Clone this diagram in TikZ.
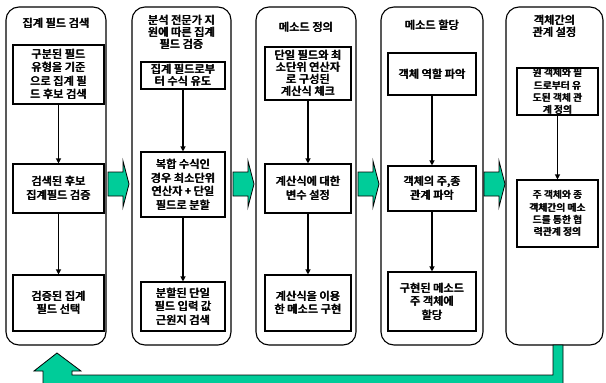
\documentclass[tikz,border=0pt]{standalone}
\usepackage{fontspec}
\newfontfamily\krfont{Noto Sans CJK KR}
\newcommand\bt[1]{\rlap{#1}\rlap{\kern0.4pt#1}\kern0.8pt#1}
\usetikzlibrary{arrows.meta}
\definecolor{grn}{RGB}{0,204,153}
\begin{document}
\begin{tikzpicture}[x=1pt,y=-1pt,
  font=\krfont\fontsize{11.2}{13.5}\selectfont,
  colbox/.style={draw, line width=1.1pt, rounded corners=13pt, inner sep=0pt},
  box/.style={draw, line width=1.1pt, align=center, inner sep=0pt, font=\krfont\fontsize{11.2}{13.5}\selectfont},
  tight/.style={font=\krfont\fontsize{11.2}{12.2}\selectfont},
  small/.style={font=\krfont\fontsize{9.8}{12.2}\selectfont},
  ttl/.style={align=center, inner sep=0pt, font=\krfont\fontsize{11.2}{12.2}\selectfont},
  arr/.style={line width=1.1pt, -{Triangle[length=5pt,width=5pt]}},
  garrow/.style={fill=grn, draw=black, line width=0.8pt}]
\useasboundingbox (0,0) rectangle (606,383);
\clip (0,0) rectangle (606,383);

% columns
\node[colbox, minimum width=100pt, minimum height=338pt] (c1) at (56,176) {};
\node[colbox, minimum width=99pt, minimum height=338pt] (c2) at (181.5,176) {};
\node[colbox, minimum width=100pt, minimum height=338pt] (c3) at (306,176) {};
\node[colbox, minimum width=102pt, minimum height=338pt] (c4) at (432,176) {};
\node[colbox, minimum width=97pt, minimum height=338pt] (c5) at (554.5,176) {};

% titles
\node[ttl] (t1) at (56,23) {\bt{집계 필드 검색}};
\node[ttl] (t2) at (181.5,32) {\bt{분석 전문가 지}\\\bt{원에 따른 집계}\\\bt{필드 검증}};
\node[ttl] (t3) at (306,27) {\bt{메소드 정의}};
\node[ttl] (t4) at (432,25) {\bt{메소드 할당}};
\node[ttl] (t5) at (554.5,26) {\bt{객체간의}\\\bt{관계 설정}};

% column 1
\node[box, minimum width=91pt, minimum height=59pt] (c1b1) at (58.5,74.5) {\bt{구분된 필드}\\\bt{유형을 기준}\\\bt{으로 집계 필}\\\bt{드 후보 검색}};
\node[box, minimum width=91pt, minimum height=49pt] (c1b2) at (58.5,188.5) {\bt{검색된 후보}\\\bt{집계필드 검증}};
\node[box, minimum width=91pt, minimum height=56pt] (c1b3) at (58.5,303) {\bt{검증된 집계}\\\bt{필드 선택}};
% column 2
\node[box, tight, minimum width=84pt, minimum height=27pt] (c2b1) at (183,75.5) {\bt{집계 필드로부}\\\bt{터 수식 유도}};
\node[box, minimum width=84pt, minimum height=65pt] (c2b2) at (183,184.5) {\bt{복합 수식인}\\\bt{경우 최소단위}\\\bt{연산자 + 단일}\\\bt{필드로 분할}};
\node[box, minimum width=84pt, minimum height=49pt] (c2b3) at (183,306.5) {\bt{분할된 단일}\\\bt{필드 입력 값}\\\bt{근원지 검색}};
% column 3
\node[box, tight, minimum width=86pt, minimum height=53pt] (c3b1) at (308,73.5) {\bt{단일 필드와 최}\\\bt{소단위 연산자}\\\bt{로 구성된}\\\bt{계산식 체크}};
\node[box, minimum width=86pt, minimum height=49pt] (c3b2) at (308,188.5) {\bt{계산식에 대한}\\\bt{변수 설정}};
\node[box, minimum width=86pt, minimum height=56pt] (c3b3) at (308,303) {\bt{계산식을 이용}\\\bt{한 메소드 구현}};
% column 4
\node[box, minimum width=88pt, minimum height=42pt] (c4b1) at (432,74) {\bt{객체 역할 파악}};
\node[box, minimum width=88pt, minimum height=45pt] (c4b2) at (432,188.5) {\bt{객체의 주,종}\\\bt{관계 파악}};
\node[box, minimum width=88pt, minimum height=59pt] (c4b3) at (432,301.5) {\bt{구현된 메소드}\\\bt{주 객체에}\\\bt{할당}};
% column 5
\node[box, small, minimum width=81pt, minimum height=47pt] (c5b1) at (557.5,91.5) {\bt{원 객체와 필}\\\bt{드로부터 유}\\\bt{도된 객체 관}\\\bt{계 정의}};
\node[box, small, minimum width=81pt, minimum height=67pt] (c5b2) at (557.5,213.5) {\bt{주 객체와 종}\\\bt{객체간의 메소}\\\bt{드를 통한 협}\\\bt{력관계 정의}};

% inner arrows
\draw[arr] (c1b1) -- (c1b2);
\draw[arr] (c1b2) -- (c1b3);
\draw[arr] (c2b1) -- (c2b2);
\draw[arr] (c2b2) -- (c2b3);
\draw[arr] (c3b1) -- (c3b2);
\draw[arr] (c3b2) -- (c3b3);
\draw[arr] (c4b1) -- (c4b2);
\draw[arr] (c4b2) -- (c4b3);
\draw[arr] (c5b1) -- (c5b2);

% green block arrows between columns
\foreach \x in {108,233,358,484}{
  \draw[garrow] (\x,172) -- (\x+15,172) -- (\x+15,161) -- (\x+21,184) -- (\x+15,207) -- (\x+15,196) -- (\x,196) -- cycle;
}

% return arrow
\draw[garrow] (553,345) -- (563,345) -- (563,395) -- (43,395) -- (43,371) -- (34,371) -- (57,353) -- (81,371) -- (72,371) -- (72,375) -- (553,375) -- cycle;
\end{tikzpicture}
\end{document}
